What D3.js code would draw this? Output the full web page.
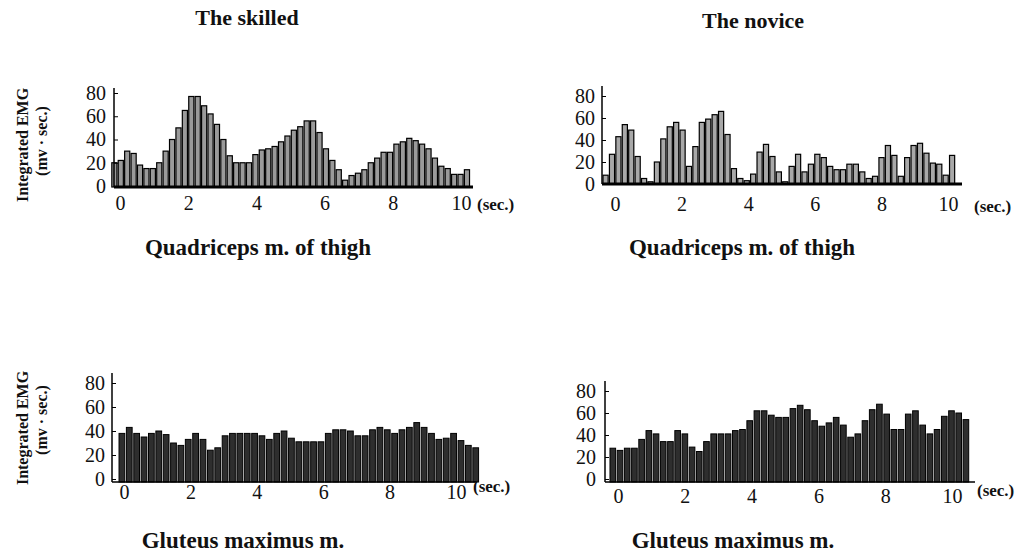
<!DOCTYPE html>
<html>
<head>
<meta charset="utf-8">
<script src="https://cdn.jsdelivr.net/npm/d3@7"></script>
<style>
  body { margin: 0; background: #fff; }
  text { font-family: "Liberation Serif", "Times New Roman", serif; fill: #111; }
</style>
</head>
<body>
<script>
// Integrated EMG per ~0.19 s bin (mv·sec.)
const skilledQuad = [20, 22, 30, 28, 18, 15, 15, 20, 30, 40, 50, 65, 77, 77, 69, 62, 53, 40, 26, 20,
  20, 20, 27, 31, 32, 34, 38, 43, 48, 51, 56, 56, 46, 32, 22, 14, 5, 9, 11, 14,
  20, 24, 29, 29, 36, 38, 41, 39, 36, 32, 24, 17, 15, 10, 10, 14];
const noviceQuad = [8, 27, 43, 54, 49, 25, 5, 2, 20, 41, 52, 56, 49, 16, 34, 56, 59, 63, 66, 45,
  14, 5, 3, 9, 29, 36, 25, 11, 2, 16, 27, 11, 18, 27, 24, 16, 13, 13, 18, 18,
  11, 5, 7, 24, 35, 26, 7, 24, 35, 37, 28, 19, 18, 8, 26];
const skilledGlut = [38, 43, 38, 35, 38, 40, 37, 30, 28, 33, 38, 33, 24, 26, 36, 38, 38, 38, 38, 36,
  33, 38, 40, 34, 31, 31, 31, 31, 38, 41, 41, 40, 36, 36, 41, 43, 41, 38, 41, 43,
  47, 43, 38, 33, 34, 38, 32, 28, 26];
const noviceGlut = [28, 26, 28, 28, 36, 44, 41, 34, 34, 44, 41, 29, 25, 34, 41, 41, 41, 44, 45, 53,
  62, 62, 58, 56, 56, 64, 67, 63, 53, 48, 51, 56, 49, 38, 41, 53, 63, 68, 59, 45,
  45, 59, 62, 49, 41, 45, 57, 62, 60, 54];

const yTicks = [0, 20, 40, 60, 80];
const xTicks = [0, 2, 4, 6, 8, 10];
const groupTitles = ["The skilled", "The novice"];
const muscleTitles = ["Quadriceps m. of thigh", "Gluteus maximus m."];
const yLabel = "Integrated EMG";
const yUnit = "(mv · sec.)";
const xUnit = "(sec.)";

const svg = d3.select("body").append("svg")
  .attr("width", 1026)
  .attr("height", 556);

// one panel = one bar chart; layout numbers are pixel positions in the page
function drawPanel(cfg, values) {
  const x = d3.scaleLinear().domain([0, 10]).range([cfg.x0, cfg.x10]);
  const y = d3.scaleLinear().domain([0, 80]).range([cfg.y0, cfg.y80]);

  const band = d3.scaleBand()
    .domain(d3.range(values.length))
    .range([x(cfg.tStart), x(cfg.tEnd)])
    .paddingInner(cfg.pad);

  const g = svg.append("g");

  // bars
  g.selectAll("rect.bar")
    .data(values)
    .enter().append("rect")
    .attr("class", "bar")
    .attr("x", (d, i) => band(i))
    .attr("y", d => y(d))
    .attr("width", band.bandwidth())
    .attr("height", d => cfg.barBase - y(d))
    .attr("fill", cfg.fill)
    .attr("stroke", "#000")
    .attr("stroke-width", cfg.stroke);

  // x axis line + labels
  g.append("line")
    .attr("x1", cfg.axisX).attr("x2", cfg.xEnd)
    .attr("y1", cfg.barBase).attr("y2", cfg.barBase)
    .attr("stroke", "#000").attr("stroke-width", cfg.baseWidth);

  const xa = g.append("g")
    .attr("transform", `translate(0,${cfg.xLabelY})`)
    .call(d3.axisBottom(x).tickValues(xTicks).tickSize(0).tickPadding(0));
  xa.select(".domain").remove();
  xa.selectAll("text")
    .attr("dy", 0)
    .style("font-size", "20px")
    .style("font-family", "'Liberation Serif', serif");

  g.append("text")
    .attr("x", cfg.secX).attr("y", cfg.secY)
    .style("font-size", "17px").style("font-weight", "bold")
    .text(xUnit);

  // y axis: inward ticks
  g.append("line")
    .attr("x1", cfg.axisX).attr("x2", cfg.axisX)
    .attr("y1", cfg.axisTop).attr("y2", cfg.barBase)
    .attr("stroke", "#000").attr("stroke-width", 1.5);

  const ya = g.append("g")
    .attr("transform", `translate(${cfg.axisX},0)`)
    .call(d3.axisLeft(y).tickValues(yTicks).tickSizeInner(-4).tickSizeOuter(0).tickPadding(cfg.yPad));
  ya.select(".domain").remove();
  ya.selectAll("text")
    .style("font-size", "20px")
    .style("font-family", "'Liberation Serif', serif");

  // title under the panel
  g.append("text")
    .attr("x", cfg.titleX).attr("y", cfg.titleY)
    .attr("text-anchor", "middle")
    .style("font-size", "23px").style("font-weight", "bold")
    .text(cfg.title);
}

drawPanel({
  x0: 120, x10: 461, y0: 186, y80: 93, tStart: -0.24, tEnd: 10.25, pad: 0.2,
  barBase: 187, axisX: 114, axisTop: 88, xEnd: 473, xLabelY: 210, yPad: 8,
  secX: 477, secY: 210, fill: "#9a9a9a", stroke: 1.2, baseWidth: 3,
  titleX: 258, titleY: 255, title: muscleTitles[0]
}, skilledQuad);

drawPanel({
  x0: 615, x10: 948, y0: 184, y80: 96, tStart: -0.36, tEnd: 10.2, pad: 0.2,
  barBase: 184, axisX: 602, axisTop: 86, xEnd: 962, xLabelY: 211, yPad: 7,
  secX: 974, secY: 212, fill: "#a8a8a8", stroke: 1.2, baseWidth: 3,
  titleX: 742, titleY: 255, title: muscleTitles[0]
}, noviceQuad);

drawPanel({
  x0: 124, x10: 456, y0: 479, y80: 383, tStart: -0.15, tEnd: 10.68, pad: 0.22,
  barBase: 482, axisX: 112, axisTop: 373, xEnd: 477, xLabelY: 499, yPad: 7,
  secX: 473, secY: 492, fill: "#2e2e2e", stroke: 1, baseWidth: 1.5,
  titleX: 243, titleY: 548, title: muscleTitles[1]
}, skilledGlut);

drawPanel({
  x0: 618, x10: 952, y0: 479, y80: 391, tStart: -0.24, tEnd: 10.5, pad: 0.22,
  barBase: 482, axisX: 605, axisTop: 381, xEnd: 975, xLabelY: 503, yPad: 9,
  secX: 977, secY: 496, fill: "#2e2e2e", stroke: 1, baseWidth: 1.5,
  titleX: 733, titleY: 548, title: muscleTitles[1]
}, noviceGlut);

// group headings
svg.append("text").attr("x", 247).attr("y", 25).attr("text-anchor", "middle")
  .style("font-size", "22px").style("font-weight", "bold").text(groupTitles[0]);
svg.append("text").attr("x", 753).attr("y", 28).attr("text-anchor", "middle")
  .style("font-size", "22px").style("font-weight", "bold").text(groupTitles[1]);

// rotated y labels for both rows
[[145, 141], [428, 420]].forEach(([cy1, cy2]) => {
  svg.append("text")
    .attr("transform", `translate(28,${cy1}) rotate(-90)`)
    .attr("text-anchor", "middle")
    .style("font-size", "16px").style("font-weight", "bold")
    .text(yLabel);
  svg.append("text")
    .attr("transform", `translate(47,${cy2}) rotate(-90)`)
    .attr("text-anchor", "middle")
    .style("font-size", "16px").style("font-weight", "bold")
    .text(yUnit);
});
</script>
</body>
</html>
